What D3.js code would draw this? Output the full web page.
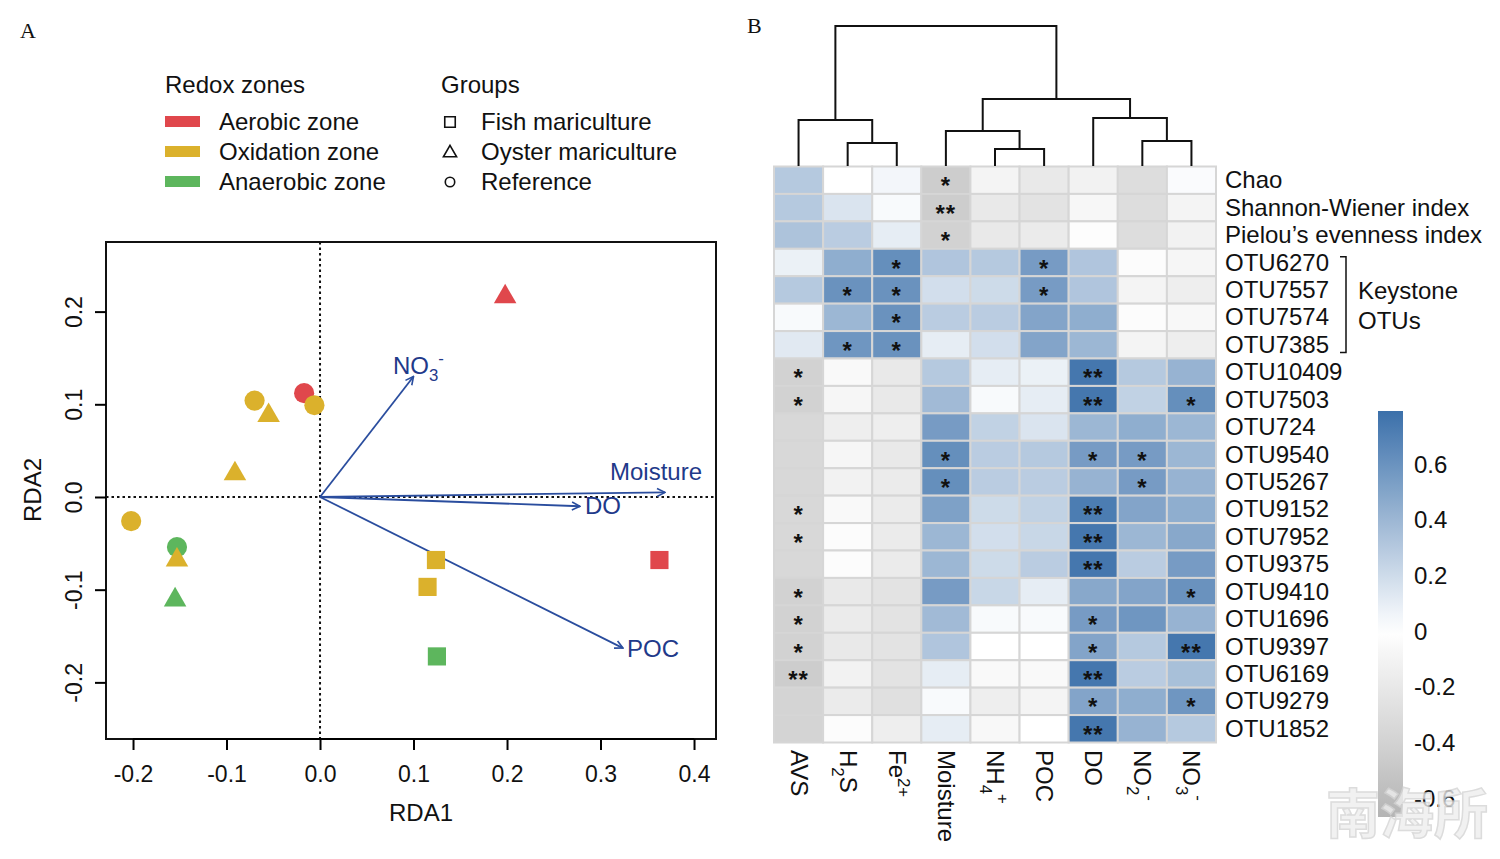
<!DOCTYPE html>
<html lang="en">
<head>
<meta charset="UTF-8">
<title>RDA and correlation heatmap</title>
<script src="https://d3js.org/d3.v7.min.js"></script>
<style>
    body { margin: 0; background: #fff; }
    svg text { font-family: "Liberation Sans", Arial, sans-serif; fill: #111; }
    .panel-tag { font-family: "Liberation Serif", "Times New Roman", serif; font-size: 22px; }
</style>
</head>
<body>
<svg id="chart" width="1500" height="859"></svg>
<script>
// ---------- Panel A data (RDA) ----------
const sampleX = [0.198, -0.017, -0.070, -0.006, -0.055, -0.091, -0.202, -0.153, -0.153, -0.155, 0.124, 0.115, 0.125, 0.363];
const sampleY = [0.216, 0.112, 0.104, 0.099, 0.088, 0.025, -0.026, -0.054, -0.068, -0.111, -0.068, -0.097, -0.172, -0.068];
const sampleZone = ["Aerobic", "Aerobic", "Oxidation", "Oxidation", "Oxidation", "Oxidation", "Oxidation", "Anaerobic", "Oxidation", "Anaerobic", "Oxidation", "Oxidation", "Anaerobic", "Aerobic"];
const sampleGroup = ["Oyster", "Reference", "Reference", "Reference", "Oyster", "Oyster", "Reference", "Reference", "Oyster", "Oyster", "Fish", "Fish", "Fish", "Fish"];

const envNames = ["NO3-", "Moisture", "DO", "POC"];
const envX = [0.100, 0.369, 0.278, 0.324];
const envY = [0.130, 0.005, -0.010, -0.163];

const zoneNames = ["Aerobic zone", "Oxidation zone", "Anaerobic zone"];
const zoneColors = ["#e0474c", "#dbb12c", "#5db65d"];
const groupNames = ["Fish mariculture", "Oyster mariculture", "Reference"];

const xTicksA = [-0.2, -0.1, 0.0, 0.1, 0.2, 0.3, 0.4];
const yTicksA = [-0.2, -0.1, 0.0, 0.1, 0.2];

// ---------- Panel B data (correlation heatmap) ----------
const colNames = ["AVS", "H2S", "Fe2+", "Moisture", "NH4+", "POC", "DO", "NO2-", "NO3-"];
const rowNames = ["Chao", "Shannon-Wiener index", "Pielou\u2019s evenness index", "OTU6270", "OTU7557", "OTU7574", "OTU7385",
    "OTU10409", "OTU7503", "OTU724", "OTU9540", "OTU5267", "OTU9152", "OTU7952", "OTU9375", "OTU9410", "OTU1696",
    "OTU9397", "OTU6169", "OTU9279", "OTU1852"];
const corrValues = [
    [0.30, 0.00, 0.05, -0.45, -0.10, -0.20, -0.12, -0.30, 0.02],
    [0.30, 0.15, 0.03, -0.45, -0.20, -0.25, -0.07, -0.30, -0.10],
    [0.33, 0.28, 0.10, -0.40, -0.20, -0.18, -0.02, -0.30, -0.12],
    [0.08, 0.45, 0.62, 0.32, 0.30, 0.55, 0.32, -0.03, -0.08],
    [0.30, 0.60, 0.60, 0.18, 0.20, 0.55, 0.32, -0.10, -0.15],
    [0.03, 0.40, 0.60, 0.28, 0.28, 0.50, 0.45, -0.03, -0.06],
    [0.12, 0.58, 0.60, 0.10, 0.18, 0.50, 0.40, -0.10, -0.15],
    [-0.40, -0.05, -0.20, 0.30, 0.10, 0.08, 0.75, 0.30, 0.42],
    [-0.40, -0.08, -0.20, 0.38, 0.03, 0.10, 0.75, 0.25, 0.62],
    [-0.35, -0.15, -0.15, 0.55, 0.25, 0.15, 0.40, 0.45, 0.40],
    [-0.35, -0.08, -0.20, 0.62, 0.28, 0.30, 0.55, 0.55, 0.40],
    [-0.35, -0.12, -0.18, 0.62, 0.28, 0.28, 0.42, 0.55, 0.42],
    [-0.35, -0.05, -0.18, 0.52, 0.20, 0.25, 0.72, 0.50, 0.45],
    [-0.35, -0.03, -0.18, 0.40, 0.18, 0.22, 0.75, 0.40, 0.48],
    [-0.35, -0.03, -0.18, 0.40, 0.20, 0.28, 0.75, 0.28, 0.55],
    [-0.40, -0.20, -0.25, 0.55, 0.22, 0.10, 0.48, 0.50, 0.60],
    [-0.40, -0.18, -0.25, 0.38, 0.03, 0.03, 0.55, 0.58, 0.42],
    [-0.40, -0.20, -0.25, 0.32, 0.00, 0.00, 0.50, 0.30, 0.75],
    [-0.45, -0.12, -0.25, 0.10, -0.05, -0.05, 0.75, 0.28, 0.35],
    [-0.38, -0.18, -0.28, 0.03, -0.15, -0.10, 0.50, 0.45, 0.58],
    [-0.38, -0.03, -0.15, 0.10, -0.06, 0.00, 0.75, 0.42, 0.30]
];
const corrStars = [
    ["", "", "", "*", "", "", "", "", ""],
    ["", "", "", "**", "", "", "", "", ""],
    ["", "", "", "*", "", "", "", "", ""],
    ["", "", "*", "", "", "*", "", "", ""],
    ["", "*", "*", "", "", "*", "", "", ""],
    ["", "", "*", "", "", "", "", "", ""],
    ["", "*", "*", "", "", "", "", "", ""],
    ["*", "", "", "", "", "", "**", "", ""],
    ["*", "", "", "", "", "", "**", "", "*"],
    ["", "", "", "", "", "", "", "", ""],
    ["", "", "", "*", "", "", "*", "*", ""],
    ["", "", "", "*", "", "", "", "*", ""],
    ["*", "", "", "", "", "", "**", "", ""],
    ["*", "", "", "", "", "", "**", "", ""],
    ["", "", "", "", "", "", "**", "", ""],
    ["*", "", "", "", "", "", "", "", "*"],
    ["*", "", "", "", "", "", "*", "", ""],
    ["*", "", "", "", "", "", "*", "", "**"],
    ["**", "", "", "", "", "", "**", "", ""],
    ["", "", "", "", "", "", "*", "", "*"],
    ["", "", "", "", "", "", "**", "", ""]
];
// column dendrogram merges: [left node, right node, height]; leaves are 0..8, merges numbered from 9
const colMerges = [
    [1, 2, 0.164],
    [0, 9, 0.329],
    [4, 5, 0.121],
    [3, 11, 0.250],
    [7, 8, 0.179],
    [6, 13, 0.343],
    [12, 14, 0.479],
    [10, 15, 1.000]
];
const colorTicks = [-0.6, -0.4, -0.2, 0, 0.2, 0.4, 0.6];

// sub/superscript pieces for chemical labels (0 normal, 1 sub, -1 super)
const labelParts = {
    "H2S": [["H", 0], ["2", 1], ["S", 0]],
    "Fe2+": [["Fe", 0], ["2+", -1]],
    "NH4+": [["NH", 0], ["4", 1], ["+", -1]],
    "NO2-": [["NO", 0], ["2", 1], ["-", -1]],
    "NO3-": [["NO", 0], ["3", 1], ["-", -1]]
};

function richText(sel, name, size) {
    const parts = labelParts[name] || [[name, 0]];
    let shift = 0;
    parts.forEach(([t, k]) => {
        const target = k === 1 ? 0.3 * size : (k === -1 ? -0.4 * size : 0);
        sel.append("tspan")
            .attr("dy", target - shift)
            .style("font-size", k === 0 ? size + "px" : (size * 0.7) + "px")
            .text(t);
        shift = target;
    });
}

const fmt = d => d === 0 ? "0.0" : d.toFixed(1);

const svg = d3.select("#chart");
const defs = svg.append("defs");

// ================= Panel A =================
svg.append("text").attr("class", "panel-tag").attr("x", 20).attr("y", 38).text("A");

const x = d3.scaleLinear().domain([-0.2289, 0.4235]).range([106, 716]);
const y = d3.scaleLinear().domain([-0.2611, 0.2751]).range([739, 242]);

// legend
const legA = svg.append("g");
legA.append("text").attr("x", 165).attr("y", 93).style("font-size", "24px").text("Redox zones");
legA.append("text").attr("x", 441).attr("y", 93).style("font-size", "24px").text("Groups");
zoneNames.forEach((z, i) => {
    const cy = 122 + i * 30;
    legA.append("rect").attr("x", 165).attr("y", cy - 6).attr("width", 35).attr("height", 11).attr("fill", zoneColors[i]);
    legA.append("text").attr("x", 219).attr("y", cy + 8).style("font-size", "24px").text(z);
});
groupNames.forEach((g, i) => {
    const cy = 122 + i * 30;
    const sym = [d3.symbolSquare, d3.symbolTriangle, d3.symbolCircle][i];
    legA.append("path")
        .attr("d", d3.symbol().type(sym).size([110, 75, 70][i])())
        .attr("transform", `translate(450,${cy + (i === 1 ? 1 : 0)})`)
        .attr("fill", "none").attr("stroke", "#111").attr("stroke-width", 1.6);
    legA.append("text").attr("x", 481).attr("y", cy + 8).style("font-size", "24px").text(g);
});

// frame
svg.append("rect").attr("x", 106).attr("y", 242).attr("width", 610).attr("height", 497)
    .attr("fill", "none").attr("stroke", "#111").attr("stroke-width", 2);

// zero lines
svg.append("line").attr("x1", 106).attr("x2", 716).attr("y1", y(0)).attr("y2", y(0))
    .attr("stroke", "#111").attr("stroke-width", 2).attr("stroke-dasharray", "2.5,3");
svg.append("line").attr("x1", x(0)).attr("x2", x(0)).attr("y1", 242).attr("y2", 739)
    .attr("stroke", "#111").attr("stroke-width", 2).attr("stroke-dasharray", "2.5,3");

// axes
const xAxisA = svg.append("g").attr("transform", "translate(0,739)")
    .call(d3.axisBottom(x).tickValues(xTicksA).tickFormat(fmt).tickSize(11).tickPadding(16));
xAxisA.select(".domain").attr("d", `M${x(-0.2)},0H${x(0.4)}`).attr("stroke-width", 2);
xAxisA.selectAll(".tick line").attr("stroke-width", 2);
xAxisA.selectAll("text").style("font-size", "23px").attr("fill", "#111").attr("font-family", "Liberation Sans, Arial, sans-serif");

const yAxisA = svg.append("g").attr("transform", "translate(106,0)")
    .call(d3.axisLeft(y).tickValues(yTicksA).tickFormat(fmt).tickSize(11));
yAxisA.select(".domain").remove();
yAxisA.selectAll(".tick line").attr("stroke-width", 2);
yAxisA.selectAll("text")
    .attr("x", 0).attr("y", -24).attr("dy", 0)
    .attr("transform", "rotate(-90)")
    .attr("text-anchor", "middle")
    .style("font-size", "23px").attr("fill", "#111").attr("font-family", "Liberation Sans, Arial, sans-serif");

svg.append("text").attr("x", 421).attr("y", 821).attr("text-anchor", "middle").style("font-size", "24px").text("RDA1");
svg.append("text").attr("transform", `translate(41,${y(0) - 7}) rotate(-90)`).attr("text-anchor", "middle")
    .style("font-size", "24px").text("RDA2");

// arrows
defs.append("marker").attr("id", "arr").attr("viewBox", "0 0 10 10").attr("refX", 9).attr("refY", 5)
    .attr("markerWidth", 10).attr("markerHeight", 10).attr("markerUnits", "userSpaceOnUse").attr("orient", "auto")
    .append("path").attr("d", "M1,1 L9,5 L1,9").attr("fill", "none").attr("stroke", "#2a4d9e").attr("stroke-width", 1.6);

envNames.forEach((n, i) => {
    svg.append("line").attr("x1", x(0)).attr("y1", y(0)).attr("x2", x(envX[i])).attr("y2", y(envY[i]))
        .attr("stroke", "#2a4d9e").attr("stroke-width", 1.8).attr("marker-end", "url(#arr)");
});
const envLabelPos = [[393, 374, "start"], [702, 480, "end"], [585, 514, "start"], [627, 657, "start"]];
envNames.forEach((n, i) => {
    const t = svg.append("text").attr("x", envLabelPos[i][0]).attr("y", envLabelPos[i][1])
        .attr("text-anchor", envLabelPos[i][2]).style("font-size", "24px");
    richText(t, n, 24);
    t.selectAll("tspan").style("fill", "#1f3a8a");
});

// points
sampleX.forEach((sx, i) => {
    const col = zoneColors[zoneNames.indexOf(sampleZone[i] + " zone")];
    const g = sampleGroup[i];
    const sym = g === "Fish" ? d3.symbolSquare : (g === "Oyster" ? d3.symbolTriangle : d3.symbolCircle);
    const size = g === "Fish" ? 330 : (g === "Oyster" ? 220 : 320);
    svg.append("path").attr("d", d3.symbol().type(sym).size(size)())
        .attr("transform", `translate(${x(sx)},${y(sampleY[i])})`)
        .attr("fill", col);
});

// ================= Panel B =================
svg.append("text").attr("class", "panel-tag").attr("x", 747).attr("y", 33).text("B");

const hx = d3.scaleBand().domain(colNames).range([774, 1216]);
const hy = d3.scaleBand().domain(rowNames).range([166.5, 742.5]);
const color = d3.scaleLinear().domain([-0.67, 0, 0.79]).range(["#b4b4b4", "#ffffff", "#3b70aa"]);

const cells = [];
rowNames.forEach((r, i) => colNames.forEach((c, j) => cells.push({ r, c, v: corrValues[i][j], s: corrStars[i][j] })));

svg.append("g").selectAll("rect").data(cells).join("rect")
    .attr("x", d => hx(d.c)).attr("y", d => hy(d.r))
    .attr("width", hx.bandwidth()).attr("height", hy.bandwidth())
    .attr("fill", d => color(d.v))
    .attr("stroke", "#d6d6d6").attr("stroke-width", 2);

svg.append("g").selectAll("text").data(cells.filter(d => d.s)).join("text")
    .attr("x", d => hx(d.c) + hx.bandwidth() / 2)
    .attr("y", d => hy(d.r) + hy.bandwidth() / 2 + 14)
    .attr("text-anchor", "middle")
    .style("font-size", "24px").style("font-weight", "bold")
    .attr("letter-spacing", "1px")
    .text(d => d.s);

// dendrogram
const dh = d3.scaleLinear().domain([0, 1]).range([166, 26]);
const nodeX = colNames.map(c => hx(c) + hx.bandwidth() / 2);
const nodeH = colNames.map(() => 0);
const dendro = svg.append("g").attr("fill", "none").attr("stroke", "#111").attr("stroke-width", 2);
colMerges.forEach(([a, b, h]) => {
    const xa = nodeX[a], xb = nodeX[b];
    dendro.append("path")
        .attr("d", `M${xa},${dh(nodeH[a])}V${dh(h)}H${xb}V${dh(nodeH[b])}`);
    nodeX.push((xa + xb) / 2);
    nodeH.push(h);
});

// row labels
svg.append("g").selectAll("text").data(rowNames).join("text")
    .attr("x", 1225).attr("y", d => hy(d) + hy.bandwidth() / 2 + 8)
    .style("font-size", "24px").text(d => d);

// keystone bracket
const by0 = hy("OTU6270") + 8, by1 = hy("OTU7385") + hy.bandwidth() - 6;
svg.append("path").attr("d", `M1340,${by0}H1346V${by1}H1340`)
    .attr("fill", "none").attr("stroke", "#111").attr("stroke-width", 1.5);
svg.append("text").attr("x", 1358).attr("y", 299).style("font-size", "24px").text("Keystone");
svg.append("text").attr("x", 1358).attr("y", 329).style("font-size", "24px").text("OTUs");

// column labels (rotated)
colNames.forEach(c => {
    const t = svg.append("text")
        .attr("transform", `translate(${hx(c) + hx.bandwidth() / 2 - 8},750) rotate(90)`)
        .style("font-size", "24px");
    richText(t, c, 24);
});

// colour bar
const grad = defs.append("linearGradient").attr("id", "cbar").attr("x1", 0).attr("x2", 0).attr("y1", 1).attr("y2", 0);
d3.range(0, 1.0001, 0.05).forEach(f => {
    const v = -0.67 + f * (0.79 + 0.67);
    grad.append("stop").attr("offset", f).attr("stop-color", color(v));
});
const cb = d3.scaleLinear().domain([-0.67, 0.79]).range([817, 411]);
svg.append("rect").attr("x", 1378).attr("y", 411).attr("width", 25).attr("height", 406).attr("fill", "url(#cbar)");
svg.append("g").selectAll("text").data(colorTicks).join("text")
    .attr("x", 1414).attr("y", d => cb(d) + 9)
    .style("font-size", "24px")
    .text(d => d === 0 ? "0" : d.toFixed(1));

// watermark
svg.append("text").attr("x", 1326).attr("y", 834)
    .style("font-family", "'Noto Sans CJK SC', sans-serif").style("font-size", "54px").style("font-weight", "bold")
    .style("fill", "#eeeeee").attr("stroke", "#d4d4d4").attr("stroke-width", 1.5).attr("opacity", 0.8)
    .text("南海所");
</script>
</body>
</html>
